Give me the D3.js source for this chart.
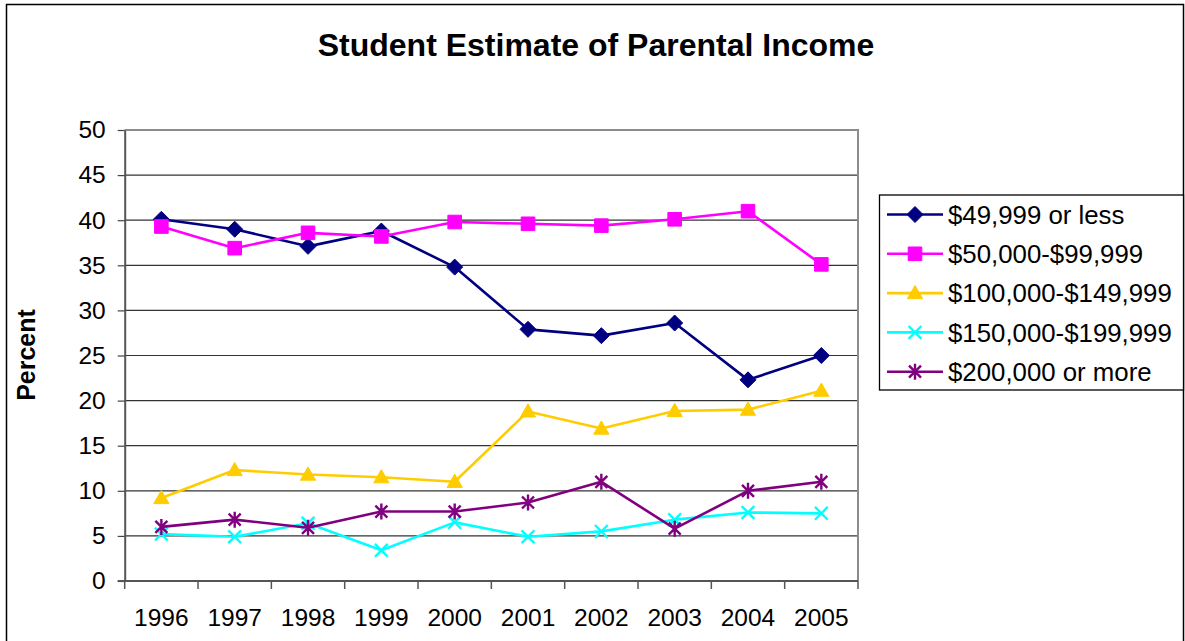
<!DOCTYPE html>
<html>
<head>
<meta charset="utf-8">
<script src="https://cdn.jsdelivr.net/npm/d3@7"></script>
<style>
  body { margin: 0; background: #fff; }
  text { font-family: "Liberation Sans", Arial, sans-serif; fill: #000; }
</style>
</head>
<body>
<script>
// chart data
var years = ["1996", "1997", "1998", "1999", "2000", "2001", "2002", "2003", "2004", "2005"];
var seriesNames = ["$49,999 or less", "$50,000-$99,999", "$100,000-$149,999", "$150,000-$199,999", "$200,000 or more"];
var under50k = [40.1, 39.0, 37.1, 38.8, 34.8, 27.9, 27.2, 28.6, 22.3, 25.0];
var from50to100k = [39.3, 36.9, 38.6, 38.2, 39.8, 39.6, 39.4, 40.1, 41.0, 35.1];
var from100to150k = [9.2, 12.3, 11.8, 11.5, 11.0, 18.8, 16.9, 18.85, 19.0, 21.1];
var from150to200k = [5.2, 4.9, 6.4, 3.4, 6.5, 4.9, 5.5, 6.8, 7.6, 7.5];
var over200k = [6.0, 6.8, 5.9, 7.7, 7.7, 8.7, 11.0, 5.8, 10.0, 11.0];
var yTicks = [0, 5, 10, 15, 20, 25, 30, 35, 40, 45, 50];

var colors = ["#000080", "#ff00ff", "#ffcc00", "#00ffff", "#800080"];
var allValues = [under50k, from50to100k, from100to150k, from150to200k, over200k];

var W = 1185, H = 641;
var svg = d3.select("body").append("svg")
  .attr("width", W)
  .attr("height", H);

// outer chart border
svg.append("rect")
  .attr("x", 6.5).attr("y", 4.5)
  .attr("width", 1177).attr("height", 700)
  .attr("fill", "#fff")
  .attr("stroke", "#000").attr("stroke-width", 1.5);

var plotLeft = 124.7, plotRight = 858, plotTop = 130, plotBottom = 581;

var x = d3.scaleBand().domain(years).range([plotLeft, plotRight]).padding(0);
var y = d3.scaleLinear().domain([0, 50]).range([plotBottom, plotTop]);
var cx = function(i) { return x(years[i]) + x.bandwidth() / 2; };

// custom marker shapes (Excel style)
var markers = [
  function(p, r) { p.moveTo(0, -r); p.lineTo(r, 0); p.lineTo(0, r); p.lineTo(-r, 0); p.closePath(); },
  function(p, r) { p.rect(-r * 0.85, -r * 0.85, r * 1.7, r * 1.7); },
  function(p, r) { p.moveTo(0, -r * 0.95); p.lineTo(r * 0.95, r * 0.7); p.lineTo(-r * 0.95, r * 0.7); p.closePath(); },
  function(p, r) { p.moveTo(-r * 0.8, -r * 0.8); p.lineTo(r * 0.8, r * 0.8); p.moveTo(r * 0.8, -r * 0.8); p.lineTo(-r * 0.8, r * 0.8); },
  function(p, r) { p.moveTo(-r * 0.75, -r * 0.75); p.lineTo(r * 0.75, r * 0.75); p.moveTo(r * 0.75, -r * 0.75); p.lineTo(-r * 0.75, r * 0.75); p.moveTo(0, -r); p.lineTo(0, r); }
];
var filled = [true, true, true, false, false];

function markerPath(k) {
  var p = d3.path();
  markers[k](p, 8);
  return p.toString();
}

// gridlines
svg.append("g").selectAll("line")
  .data(yTicks.filter(function(t) { return t > 0 && t < 50; }))
  .enter().append("line")
  .attr("x1", plotLeft).attr("x2", plotRight)
  .attr("y1", function(d) { return y(d); })
  .attr("y2", function(d) { return y(d); })
  .attr("stroke", "#333").attr("stroke-width", 1.2);

// plot area border top / right (grey)
svg.append("path")
  .attr("d", "M" + plotLeft + "," + plotTop + "H" + plotRight + "V" + plotBottom)
  .attr("fill", "none")
  .attr("stroke", "#8c8c8c").attr("stroke-width", 2);

// y axis
var yAxis = svg.append("g")
  .attr("transform", "translate(" + plotLeft + ",0)")
  .call(d3.axisLeft(y).tickValues(yTicks).tickSize(7).tickSizeOuter(0).tickPadding(12));
yAxis.select(".domain").attr("stroke", "#555").attr("stroke-width", 2);
yAxis.selectAll(".tick line").attr("stroke", "#444").attr("stroke-width", 1.2);
yAxis.selectAll("text")
  .attr("font-size", 24.5)
  .attr("font-family", "Liberation Sans, Arial, sans-serif")
  .attr("fill", "#000");

// x axis (ticks at category edges)
var xAxis = svg.append("g")
  .attr("transform", "translate(0," + plotBottom + ")");
xAxis.append("line")
  .attr("x1", plotLeft - 7).attr("x2", plotRight)
  .attr("stroke", "#555").attr("stroke-width", 2);
xAxis.selectAll(".edge")
  .data(years.concat(["end"]))
  .enter().append("line")
  .attr("class", "edge")
  .attr("x1", function(d, i) { return i < years.length ? x(d) : plotRight; })
  .attr("x2", function(d, i) { return i < years.length ? x(d) : plotRight; })
  .attr("y1", 0).attr("y2", 8)
  .attr("stroke", "#555").attr("stroke-width", 1.5);
xAxis.selectAll(".lbl")
  .data(years)
  .enter().append("text")
  .attr("class", "lbl")
  .attr("x", function(d, i) { return cx(i); })
  .attr("y", 45)
  .attr("text-anchor", "middle")
  .attr("font-size", 24.5)
  .text(function(d) { return d; });

// lines and markers
var line = d3.line()
  .x(function(d, i) { return cx(i); })
  .y(function(d) { return y(d); });

allValues.forEach(function(vals, k) {
  var g = svg.append("g");
  g.append("path")
    .attr("d", line(vals))
    .attr("fill", "none")
    .attr("stroke", colors[k])
    .attr("stroke-width", 2.6)
    .attr("stroke-linejoin", "round");
  g.selectAll("path.m")
    .data(vals)
    .enter().append("path")
    .attr("class", "m")
    .attr("d", markerPath(k))
    .attr("transform", function(d, i) { return "translate(" + cx(i) + "," + y(d) + ")"; })
    .attr("fill", filled[k] ? colors[k] : "none")
    .attr("stroke", colors[k])
    .attr("stroke-width", filled[k] ? 1 : 2.4);
});

// title
svg.append("text")
  .attr("x", 596).attr("y", 56)
  .attr("text-anchor", "middle")
  .attr("font-size", 32)
  .attr("font-weight", "bold")
  .text("Student Estimate of Parental Income");

// y label
svg.append("text")
  .attr("transform", "translate(35,355) rotate(-90)")
  .attr("text-anchor", "middle")
  .attr("font-size", 25)
  .attr("font-weight", "bold")
  .text("Percent");

// legend
var legend = svg.append("g");
legend.append("rect")
  .attr("x", 879.5).attr("y", 195)
  .attr("width", 304).attr("height", 195)
  .attr("fill", "#fff")
  .attr("stroke", "#000").attr("stroke-width", 1.3);

var items = legend.selectAll(".item")
  .data(seriesNames)
  .enter().append("g")
  .attr("transform", function(d, i) { return "translate(0," + (214.5 + i * 39.3) + ")"; });
items.append("line")
  .attr("x1", 887).attr("x2", 943)
  .attr("stroke", function(d, i) { return colors[i]; })
  .attr("stroke-width", 2.6);
items.append("path")
  .attr("d", function(d, i) { return markerPath(i); })
  .attr("transform", "translate(915,0)")
  .attr("fill", function(d, i) { return filled[i] ? colors[i] : "none"; })
  .attr("stroke", function(d, i) { return colors[i]; })
  .attr("stroke-width", function(d, i) { return filled[i] ? 1 : 2.4; });
items.append("text")
  .attr("x", 948).attr("dy", "0.36em")
  .attr("font-size", 25.8)
  .text(function(d) { return d; });
</script>
</body>
</html>
